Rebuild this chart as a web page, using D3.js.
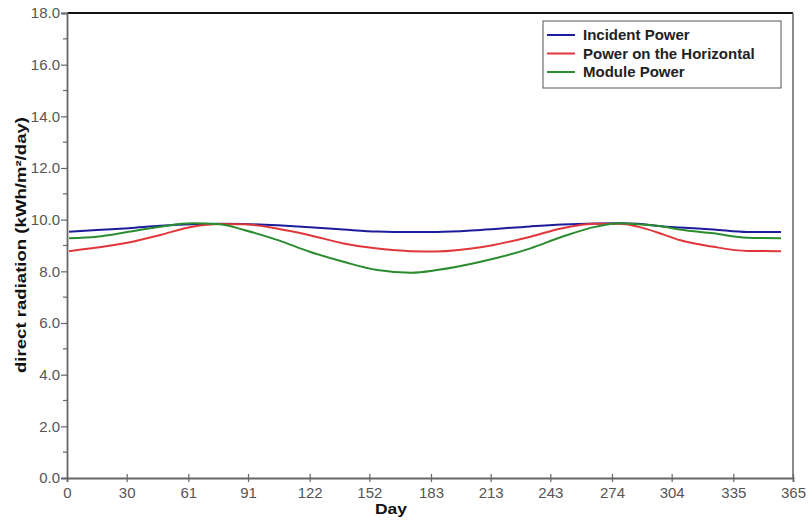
<!DOCTYPE html>
<html><head><meta charset="utf-8">
<script src="https://cdn.jsdelivr.net/npm/d3@7"></script>
<style>body{margin:0;background:#fff}svg{display:block}text{font-family:Arial,"Liberation Sans",sans-serif}</style>
</head><body><svg id="c" width="809" height="522"></svg>
<script>
const days = [1,15,31,47,63,77,89,106,122,139,156,173,186,208,233,249,266,278,287,300,308,325,342,359];
const incident = [9.53,9.6,9.67,9.76,9.82,9.84,9.83,9.78,9.71,9.62,9.54,9.52,9.52,9.6,9.74,9.81,9.85,9.86,9.84,9.74,9.7,9.62,9.52,9.52];
const horizontal = [8.78,8.92,9.12,9.41,9.73,9.83,9.82,9.65,9.4,9.08,8.88,8.78,8.77,8.93,9.34,9.67,9.84,9.84,9.73,9.42,9.21,8.95,8.79,8.78];
const moduleP = [9.28,9.34,9.53,9.73,9.86,9.82,9.6,9.21,8.76,8.37,8.05,7.95,8.05,8.37,8.89,9.34,9.73,9.86,9.82,9.73,9.62,9.47,9.3,9.28];
const xTicks = [0,30,61,91,122,152,183,213,243,274,304,335,365];
const yTicks = [0,2,4,6,8,10,12,14,16,18];
const yMinor = [1,3,5,7,9,11,13,15,17];
const seriesNames = ["Incident Power","Power on the Horizontal","Module Power"];
const seriesColors = ["#1c1c9c","#e0363a","#2a8c2e"];
const seriesData = [incident, horizontal, moduleP];

const svg = d3.select("#c");
const L=67,R=793,T=13,B=478;
const x = d3.scaleLinear().domain([0,365]).range([L,R]);
const y = d3.scaleLinear().domain([0,18]).range([B,T]);
const axisCol="#666", labCol="#555";

// frame
svg.append("line").attr("x1",L).attr("x2",R).attr("y1",T).attr("y2",T).attr("stroke","#111").attr("stroke-width",2);
svg.append("line").attr("x1",R).attr("x2",R).attr("y1",T).attr("y2",B).attr("stroke",axisCol).attr("stroke-width",1.5);

// y axis
const ya = svg.append("g").attr("transform",`translate(${L},0)`)
  .call(d3.axisLeft(y).tickValues(yTicks).tickFormat(d3.format(".1f")).tickSize(6).tickPadding(1));
ya.select(".domain").attr("stroke",axisCol).attr("stroke-width",1.8);
ya.selectAll(".tick line").attr("stroke",axisCol).attr("stroke-width",1.2);
ya.selectAll("text").attr("fill",labCol).attr("font-size",15).style("font-family","Arial");
svg.append("g").selectAll("line").data(yMinor).join("line")
  .attr("x1",L-4).attr("x2",L).attr("y1",d=>y(d)).attr("y2",d=>y(d)).attr("stroke",axisCol).attr("stroke-width",1.2);

// x axis
const xa = svg.append("g").attr("transform",`translate(0,${B})`)
  .call(d3.axisBottom(x).tickValues(xTicks).tickFormat(d3.format("d")).tickSize(4).tickPadding(5));
xa.select(".domain").attr("stroke",axisCol).attr("stroke-width",1.8);
xa.selectAll(".tick line").attr("stroke",axisCol).attr("stroke-width",1.2).attr("y1",-4);
xa.selectAll("text").attr("fill",labCol).attr("font-size",15).style("font-family","Arial");

// lines
const line = d3.line().x((d,i)=>x(days[i])).y(d=>y(d)).curve(d3.curveMonotoneX);
seriesData.forEach((s,k)=>{
  svg.append("path").datum(s).attr("d",line).attr("fill","none")
    .attr("stroke",seriesColors[k]).attr("stroke-width",2);
});

// legend
const lg = svg.append("g");
lg.append("rect").attr("x",543).attr("y",21).attr("width",238).attr("height",67)
  .attr("fill","#fff").attr("stroke","#555").attr("stroke-width",1);
seriesNames.forEach((n,k)=>{
  const yy = 35 + k*18.5;
  lg.append("line").attr("x1",547).attr("x2",575).attr("y1",yy).attr("y2",yy)
    .attr("stroke",seriesColors[k]).attr("stroke-width",2);
  lg.append("text").attr("x",583).attr("y",yy+5).text(n)
    .attr("font-size",15).attr("font-weight","bold").attr("fill","#222");
});

// axis titles
svg.append("text").attr("x",391).attr("y",514).attr("text-anchor","middle")
  .attr("font-size",15).attr("font-weight","bold").attr("fill","#111")
  .attr("textLength",32).attr("lengthAdjust","spacingAndGlyphs").text("Day");
svg.append("text").attr("transform","translate(26,245) rotate(-90)").attr("text-anchor","middle")
  .attr("font-size",15).attr("font-weight","bold").attr("fill","#111")
  .attr("textLength",256).attr("lengthAdjust","spacingAndGlyphs").text("direct radiation (kWh/m²/day)");
</script></body></html>
